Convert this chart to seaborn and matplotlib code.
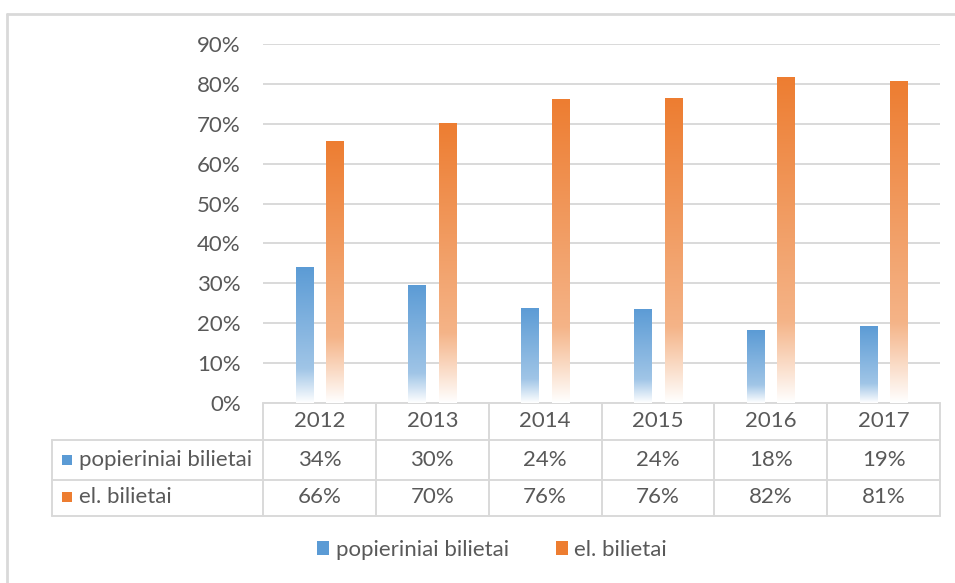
import numpy as np
import pandas as pd
import matplotlib
matplotlib.use('Agg')
import matplotlib.pyplot as plt
import seaborn as sns
from matplotlib.colors import LinearSegmentedColormap, to_rgb
from matplotlib.patches import Patch
from matplotlib.lines import Line2D
from matplotlib.transforms import blended_transform_factory

# Data
years = ['2012', '2013', '2014', '2015', '2016', '2017']
series = ['popieriniai bilietai', 'el. bilietai']
paper = [34.2, 29.7, 23.9, 23.6, 18.2, 19.4]
electronic = [65.8, 70.3, 76.1, 76.4, 81.8, 80.6]
table_paper = ['34%', '30%', '24%', '24%', '18%', '19%']
table_el = ['66%', '70%', '76%', '76%', '82%', '81%']
y_ticks = [0, 10, 20, 30, 40, 50, 60, 70, 80, 90]

colors = ['#5b9bd5', '#ed7d31']
text_color = '#595959'
grid_color = '#d9d9d9'
fs = 16

df = pd.DataFrame({
    'year': years * 2,
    'series': [series[0]] * len(years) + [series[1]] * len(years),
    'value': paper + electronic,
})

sns.set_style('white')
plt.rcParams['font.family'] = ['Lato', 'DejaVu Sans']

W, H = 955, 583
fig = plt.figure(figsize=(W / 100, H / 100), dpi=100)
# plot area: x 263..940 px, y 44..403 px
ax = fig.add_axes([263 / W, 1 - 403 / H, (940 - 263) / W, (403 - 44) / H])

sns.barplot(data=df, x='year', y='value', hue='series', palette=colors,
            width=0.54, gap=0.44, ax=ax, legend=False, zorder=3)


def tint_cmap(c):
    r = np.array(to_rgb(c))
    w = np.ones(3)
    stops = [(0.0, 1.0), (0.15, 0.65), (0.25, 0.42), (1.0, 0.0)]
    return LinearSegmentedColormap.from_list(
        'g', [(p, tuple(r * (1 - t) + w * t)) for p, t in stops])


cmaps = [tint_cmap(c) for c in colors]
grad = np.linspace(0, 1, 256).reshape(-1, 1)
n = len(years)
for i, bar in enumerate(ax.patches[:2 * n]):
    cm = cmaps[i // n]
    x0, y0 = bar.get_x(), bar.get_y()
    w, h = bar.get_width(), bar.get_height()
    bar.set_facecolor('none')
    bar.set_edgecolor('none')
    im = ax.imshow(grad, extent=[x0, x0 + w, y0, y0 + h], origin='lower',
                   cmap=cm, aspect='auto', zorder=3, interpolation='bilinear')
    im.set_clip_path(bar)

ax.set_xlim(-0.5, len(years) - 0.5)
ax.set_ylim(0, 90)
ax.set_yticks(y_ticks)
ax.set_yticklabels([f'{v}%' for v in y_ticks])
ax.tick_params(axis='y', length=0, pad=16, labelsize=fs, labelcolor=text_color)
ax.set_xticks([])
ax.set_xlabel('')
ax.set_ylabel('')
ax.grid(axis='y', color=grid_color, linewidth=1.4, zorder=0)
ax.set_axisbelow(True)
for s in ax.spines.values():
    s.set_visible(False)

# data table under the plot
tr = blended_transform_factory(ax.transData, ax.transAxes)
ph = 403 - 44
unit = (940 - 263) / len(years)


def ay(p):
    return (403 - p) / ph


left = -0.5 - (263 - 52) / unit
right = len(years) - 0.5
rows_y = [ay(403), ay(440), ay(480), ay(516)]
lk = dict(color=grid_color, linewidth=1.4, transform=tr, clip_on=False)
ax.add_line(Line2D([-0.5, right], [rows_y[0]] * 2, **lk))
for yy in rows_y[1:]:
    ax.add_line(Line2D([left, right], [yy] * 2, **lk))
for k in range(len(years) + 1):
    ax.add_line(Line2D([k - 0.5] * 2, [rows_y[0], rows_y[3]], **lk))
ax.add_line(Line2D([left] * 2, [rows_y[1], rows_y[3]], **lk))

tk = dict(transform=tr, ha='center', va='center', fontsize=fs, color=text_color)
for i, yr in enumerate(years):
    ax.text(i, ay(421), yr, **tk)
    ax.text(i, ay(460), table_paper[i], **tk)
    ax.text(i, ay(497), table_el[i], **tk)

for j, (lab, c) in enumerate(zip(series, colors)):
    yc = ay(460 + 37 * j)
    ax.add_patch(plt.Rectangle((left + 10 / unit, yc - 5 / ph), 10 / unit, 10 / ph,
                               facecolor=c, edgecolor='none', transform=tr,
                               clip_on=False))
    ax.text(left + 27 / unit, yc, lab, transform=tr, ha='left', va='center',
            fontsize=fs, color=text_color)

# legend
handles = [Patch(facecolor=c, edgecolor='none') for c in colors]
fig.legend(handles, series, loc='center', bbox_to_anchor=(492 / W, 1 - 550 / H),
           ncol=2, frameon=False, fontsize=fs, labelcolor=text_color,
           handlelength=0.55, handleheight=0.55, handletextpad=0.3,
           columnspacing=2.1)

# outer border (top and left visible)
fig.add_artist(Line2D([7 / W, 1], [1 - 14 / H] * 2, color=grid_color,
                      linewidth=2, transform=fig.transFigure))
fig.add_artist(Line2D([7 / W] * 2, [0, 1 - 14 / H], color=grid_color,
                      linewidth=2, transform=fig.transFigure))

fig.savefig('out.png', dpi=100, facecolor='white')
